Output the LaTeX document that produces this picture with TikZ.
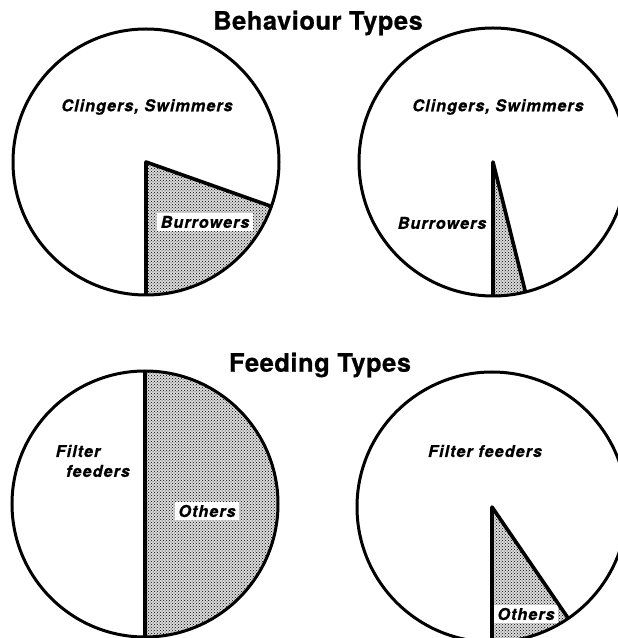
\documentclass[tikz,border=0pt]{standalone}
\usepackage{fontspec}
\setmainfont{TeX Gyre Heros}
\usetikzlibrary{patterns,calc}
\newfontfamily\labfont[LetterSpace=6,FakeBold=0.6]{TeX Gyre Heros}
\newfontfamily\titfont[LetterSpace=2,FakeBold=0.6]{TeX Gyre Heros}
\begin{document}
\begin{tikzpicture}[x=1pt,y=1pt,
  rim/.style={line width=3pt},
  radius line/.style={line width=3.6pt,line join=round},
  dots/.style={pattern=crosshatch dots,pattern color=black},
  lab/.style={font=\labfont\fontsize{16.3}{19}\selectfont\bfseries\itshape,inner xsep=1.5pt,inner ysep=1.5pt},
  wlab/.style={lab,fill=white,inner xsep=3.5pt,inner ysep=2.5pt},
  title/.style={font=\titfont\fontsize{25.5}{28}\selectfont\bfseries}]
\useasboundingbox (0,0) rectangle (618,638);
\clip (0,0) rectangle (618,638);
% ---- top left pie
\coordinate (c1) at (146,476);
\fill[black!14] (c1) -- ++(-90:133) arc[start angle=-90,end angle=-19.5,radius=133] -- cycle;
\fill[dots] (c1) -- ++(-90:133) arc[start angle=-90,end angle=-19.5,radius=133] -- cycle;
% ---- top right pie
\coordinate (c2) at (493,476);
\fill[black!14] (c2) -- ++(-90:134) arc[start angle=-90,end angle=-76,radius=134] -- cycle;
\fill[dots] (c2) -- ++(-90:134) arc[start angle=-90,end angle=-76,radius=134] -- cycle;
% ---- bottom left pie
\coordinate (c3) at (145,134);
\fill[black!14] (c3) -- ++(-90:133) arc[start angle=-90,end angle=90,radius=133] -- cycle;
\fill[dots] (c3) -- ++(-90:133) arc[start angle=-90,end angle=90,radius=133] -- cycle;
% ---- bottom right pie
\coordinate (c4) at (492,131);
\fill[black!14] (c4) -- ++(-90:135) arc[start angle=-90,end angle=-55.6,radius=135] -- cycle;
\fill[dots] (c4) -- ++(-90:135) arc[start angle=-90,end angle=-55.6,radius=135] -- cycle;
% ---- labels
\node[lab] (l1) at (147,531) {Clingers, Swimmers};
\node[wlab] (l2) at (205,416) {Burrowers};
\node[lab] (l3) at (498,531) {Clingers, Swimmers};
\node[lab] (l4) at (442,415) {Burrowers};
\node[lab] (l5) at (78,187) {Filter};
\node[lab] (l6) at (98,167) {feeders};
\node[wlab] (l7) at (207,127) {Others};
\node[lab] (l8) at (485,187) {Filter feeders};
\node[wlab] (l9) at (526,24) {Others};
% ---- outlines
\draw[rim] (c1) circle[radius=133];
\draw[radius line] ($(c1)+(-90:133)$) -- (c1) -- ($(c1)+(-19.5:133)$);
\draw[rim] (c2) circle[radius=134];
\draw[radius line] ($(c2)+(-90:134)$) -- (c2) -- ($(c2)+(-76:134)$);
\draw[rim] (c3) circle[radius=133];
\draw[radius line] ($(c3)+(-90:133)$) -- ($(c3)+(90:133)$);
\draw[rim] (c4) circle[radius=135];
\draw[radius line] ($(c4)+(-90:135)$) -- (c4) -- ($(c4)+(-55.6:135)$);
% ---- titles
\node[title] (t1) at (318,615) {Behaviour Types};
\node[title] (t2) at (320,273) {Feeding Types};
\end{tikzpicture}
\end{document}
